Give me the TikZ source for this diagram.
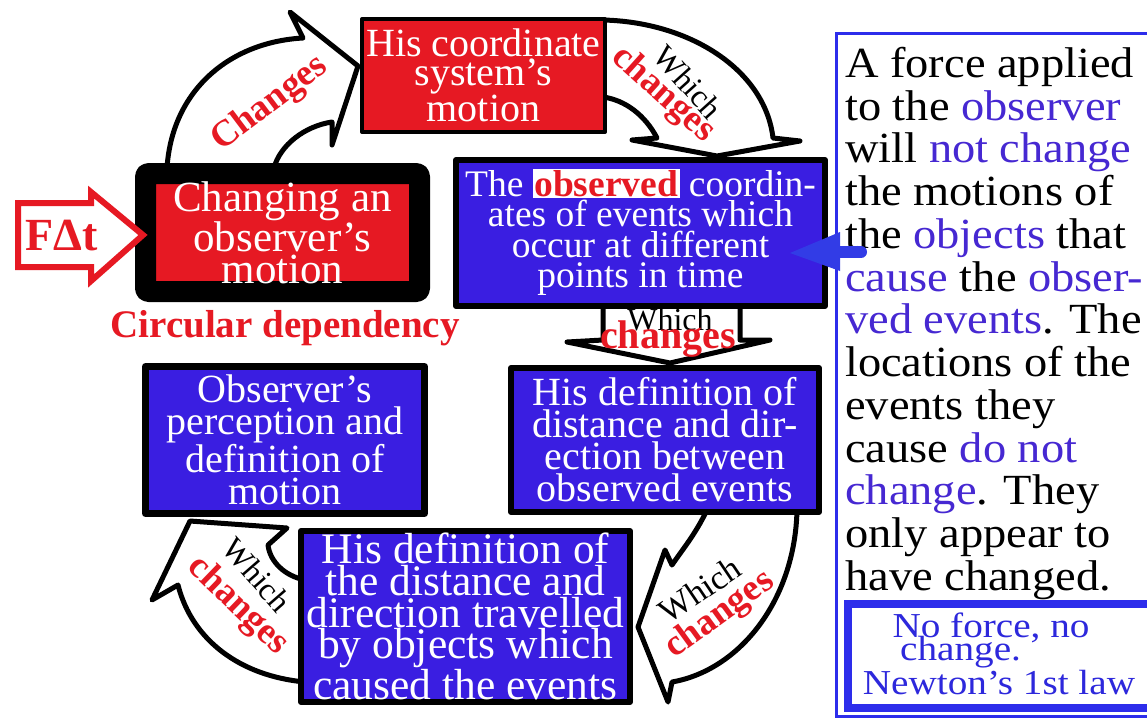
\documentclass[tikz,border=0pt]{standalone}
\usepackage{fontspec}
\setmainfont{Liberation Serif}
\newfontfamily\panelfont[FakeStretch=1.08]{Liberation Serif}
\newfontfamily\newtonfont[FakeStretch=1.12]{Liberation Serif}
\usetikzlibrary{backgrounds}
\definecolor{myred}{RGB}{230,25,35}
\definecolor{boxblue}{RGB}{58,30,225}
\definecolor{txtblue}{RGB}{70,40,210}
\definecolor{panelblue}{RGB}{45,45,235}
\definecolor{newtonblue}{RGB}{45,40,220}
\definecolor{pointblue}{RGB}{50,60,230}
\setlength{\fboxsep}{1.5pt}
\newcommand\obshl[1]{\smash{\colorbox{white}{\textcolor{myred}{\bfseries #1}}}}
\newcommand\bluew[1]{\textcolor{txtblue}{#1}}
\begin{document}
\begin{tikzpicture}[x=1pt,y=-1pt,
  box/.style={draw=black, text=white, align=center, inner sep=0pt, line join=round},
  blockarrow/.style={draw=black, fill=white, line width=5pt, line join=round, line cap=round},
  whichtxt/.style={font=\fontsize{32}{32}\selectfont, text=black, inner sep=0pt},
  chgtxt/.style={font=\fontsize{37}{37}\selectfont\bfseries, text=myred, inner sep=0pt},
  newtontxt/.style={font=\newtonfont\fontsize{35}{35}\selectfont, text=newtonblue, inner sep=0pt}]
\useasboundingbox (0,0) rectangle (1147,718);

% boxes
\node[box, fill=myred, line width=4pt, minimum width=243pt, minimum height=113pt,
      font=\fontsize{40}{29}\selectfont] (b1) at (483.5,75.5) {His coordinate\\system’s\\motion};
\node[box, fill=myred, line width=21pt, rounded corners=3pt, minimum width=274pt, minimum height=118pt,
      font=\fontsize{43}{31.5}\selectfont] (b2) at (282.5,232.5) {Changing an\\observer’s\\motion};
\node[box, fill=boxblue, line width=6pt, minimum width=369pt, minimum height=146pt,
      font=\fontsize{37.5}{30.5}\selectfont] (b3) at (640.5,233) {The \obshl{observed} coordin-\\ates of events which\\occur at different\\points in time};
\node[box, fill=boxblue, line width=6pt, minimum width=308pt, minimum height=144pt,
      font=\fontsize{40}{32}\selectfont] (b4) at (665,440) {His definition of\\distance and dir-\\ection between\\observed events};
\node[box, fill=boxblue, line width=7pt, minimum width=279pt, minimum height=147pt,
      font=\fontsize{40}{32}\selectfont] (b5) at (285,440) {Observer’s\\perception and\\definition of\\motion};
\node[box, fill=boxblue, line width=6pt, minimum width=329pt, minimum height=171pt,
      font=\fontsize{43.5}{30}\selectfont] (b6) at (465.5,616.5) {His definition of\\the distance and\\direction travelled\\by objects which\\caused the events};

\node[font=\fontsize{39}{39}\selectfont\bfseries, text=myred, inner sep=0pt, anchor=base] (circ) at (285,337) {Circular dependency};

% F Delta t arrow
\filldraw[draw=myred, fill=white, line width=6pt, line join=miter] (18,203) -- (91,203) -- (91,192) -- (143,235) -- (91,281) -- (91,267) -- (18,267) -- cycle;
\node[font=\fontsize{46}{46}\selectfont\bfseries, text=myred, inner sep=0pt] (fdt) at (62,236) {FΔt};

% right panel
\node[draw=panelblue, line width=3pt, minimum width=316pt, minimum height=683pt, inner sep=0pt] (panelbox) at (994,374.5) {};
\node[anchor=north west, inner sep=0pt, align=left, font=\panelfont\fontsize{43}{42.75}\selectfont] (panel) at (845,47)
 {A force applied\\to the \bluew{observer}\\will \bluew{not change}\\the motions of\\the \bluew{objects} that\\\bluew{cause} the \bluew{obser-}\\\bluew{ved events}. The\\locations of the\\events they\\cause \bluew{do not}\\\bluew{change}. They\\only appear to\\have changed.};
\node[draw=panelblue, line width=8pt, minimum width=304pt, minimum height=104pt, inner sep=0pt] (newtonbox) at (1000,656) {};
\node[newtontxt, anchor=base] (n1) at (991,637) {No force, no};
\node[newtontxt, anchor=base west] (n2) at (900,660) {change.};
\node[newtontxt, anchor=base] (n3) at (999,694) {Newton’s 1st law};

% blue pointer from panel to box 3
\fill[pointblue] (790,253) -- (840,232) -- (840,271) -- cycle;
\draw[pointblue, line width=12pt, line cap=round] (836,252) -- (861,252);

\begin{scope}[on background layer]
\fill[white] (0,0) rectangle (1147,718);
% A: b2 -> b1
\filldraw[blockarrow] (167,168) .. controls (172,90) and (230,42) .. (303,38) -- (290,12) -- (358,66) -- (332,145) -- (332,122) .. controls (305,126) and (280,145) .. (274,168);
\node[chgtxt, rotate=37] (tA) at (270,104) {Changes};
% B: b1 -> b3
\filldraw[blockarrow] (603,20) .. controls (690,22) and (765,70) .. (773,138) -- (800,141) -- (717,156) -- (632,140) -- (657,138) .. controls (645,115) and (625,100) .. (603,97);
\node[whichtxt, rotate=-48] (tB1) at (688,82) {Which};
\node[chgtxt, rotate=-42] (tB2) at (663,95) {changes};
% C: b3 -> b4
\filldraw[blockarrow] (603,300) -- (603,340) -- (567,342) -- (670,363) -- (770,340) -- (740,340) -- (740,300);
\node[whichtxt] (tC1) at (670,320) {Which};
\node[chgtxt, font=\fontsize{40}{40}\selectfont\bfseries] (tC2) at (668,339) {changes};
% D: b4 -> b6
\filldraw[blockarrow] (707,510) .. controls (695,535) and (682,550) .. (672,565) -- (665,550) -- (638,627) -- (668,702) -- (672,682) .. controls (740,670) and (795,600) .. (797,510);
\node[whichtxt, font=\fontsize{34}{34}\selectfont, rotate=34] (tD1) at (700,590) {Which};
\node[chgtxt, rotate=36] (tD2) at (720,615) {changes};
% E: b6 -> b5
\filldraw[blockarrow] (305,580) .. controls (285,576) and (270,562) .. (268,545) -- (287,528) -- (190,521) -- (152,600) -- (178,585) .. controls (192,640) and (240,676) .. (305,682);
\node[whichtxt, rotate=-49] (tE1) at (257,575) {Which};
\node[chgtxt, rotate=-44] (tE2) at (238,606) {changes};
\end{scope}
\end{tikzpicture}
\end{document}
